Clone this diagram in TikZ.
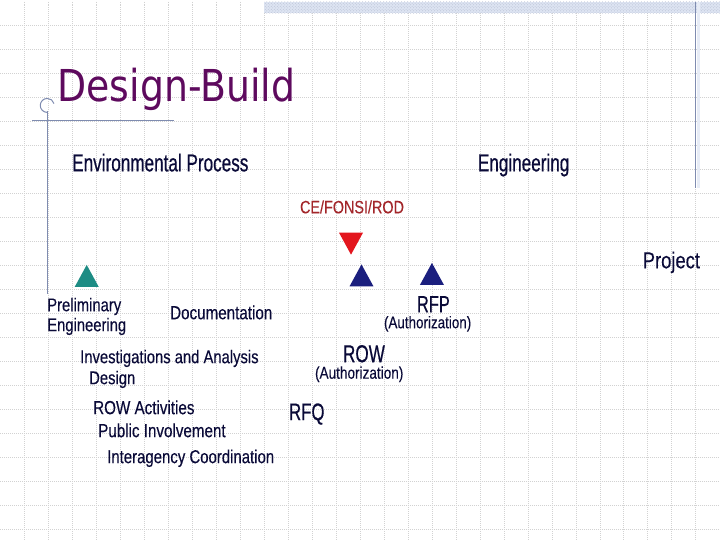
\documentclass[tikz,border=0pt]{standalone}
\usepackage{fontspec}
\setmainfont{Liberation Sans}
\newfontfamily\titlefont[FakeStretch=0.86]{DejaVu Sans}
\newfontfamily\narrowfont[FakeStretch=0.8, FakeBold=0.2]{Liberation Sans}
\newfontfamily\tightfont[FakeStretch=0.7, FakeBold=0.5]{Liberation Sans}
\usetikzlibrary{shapes.geometric,patterns}
\definecolor{tpurple}{HTML}{5E0A5E}
\definecolor{tnavy}{HTML}{0A0A38}
\definecolor{tbrick}{HTML}{A3262A}
\definecolor{tred}{HTML}{E3161E}
\definecolor{tblue}{HTML}{1B1F7E}
\definecolor{tteal}{HTML}{1E8C84}
\definecolor{tslate}{HTML}{7F8CB0}
\definecolor{tband}{HTML}{DDE4F2}

\begin{document}
\begin{tikzpicture}[x=1pt, y=-1pt,
    gridline/.style={gray!35, line width=0.6pt, dash pattern=on 1pt off 1pt},
    rule/.style={tslate, line width=1.3pt},
    lbl/.style={anchor=base west, inner sep=0pt, outer sep=0pt, text=tnavy},
    item/.style={lbl, font=\narrowfont\fontsize{19}{22}\selectfont},
    head/.style={lbl, font=\tightfont\fontsize{24.5}{28}\selectfont},
    auth/.style={lbl, font=\narrowfont\fontsize{16.8}{20}\selectfont},
    tri/.style={isosceles triangle, isosceles triangle stretches, draw=none,
                minimum width=24pt, minimum height=22pt, inner sep=0pt}]

    % --- slide background --------------------------------------------------
    \fill[white] (0,0) rectangle (720,540);
    \foreach \gx in {24,48,...,696} \draw[gridline] (\gx,0) -- (\gx,540);
    \foreach \gy in {24,48,...,528} \draw[gridline] (0,\gy) -- (720,\gy);
    \fill[tband] (264,0) rectangle (720,12);
    \fill[pattern=crosshatch dots, pattern color=tslate!55] (264,0) rectangle (720,12);
    \draw[tband!70, line width=3pt] (699,0) -- (699,187);
    \draw[rule] (696,0) -- (696,187);
    \draw[rule] (47,110) -- (47,293);
    \draw[rule] (32,119) -- (174,119);
    \draw[rule, line width=1pt] (47,111) arc[start angle=90, end angle=345, radius=7];

    % --- title -------------------------------------------------------------
    \node[anchor=base west, inner sep=0pt, text=tpurple,
          font=\titlefont\fontsize{44}{50}\selectfont] (title) at (57,100) {Design-Build};

    % --- phase headings ----------------------------------------------------
    \node[head] (envproc) at (72,170) {Environmental Process};
    \node[head] (eng) at (478,170) {Engineering};
    \node[item, font=\narrowfont\fontsize{23}{26}\selectfont] (project) at (643,267) {Project};

    % --- milestones --------------------------------------------------------
    \node[item, text=tbrick, font=\narrowfont\fontsize{18}{21}\selectfont] (rod) at (300,212) {CE/FONSI/ROD};
    \node[tri, fill=tred, rotate=-90] (rodmark) at (351,238.5) {};
    \node[tri, fill=tteal, rotate=90] (pemark) at (86.5,278.5) {};
    \node[tri, fill=tblue, rotate=90] (rowmark) at (361.5,278) {};
    \node[tri, fill=tblue, rotate=90] (rfpmark) at (432,276.5) {};

    \node[head, font=\tightfont\fontsize{23.5}{28}\selectfont] (rfp) at (417,311) {RFP};
    \node[auth] (rfpauth) at (384,327) {(Authorization)};
    \node[head, font=\tightfont\fontsize{24.5}{28}\selectfont] (row) at (343,361) {ROW};
    \node[auth, font=\narrowfont\fontsize{17}{20}\selectfont] (rowauth) at (315,377.5) {(Authorization)};
    \node[head, font=\tightfont\fontsize{24}{28}\selectfont] (rfq) at (289,419) {RFQ};

    % --- activities --------------------------------------------------------
    \node[item, font=\narrowfont\fontsize{18.5}{22}\selectfont] (prelim) at (47,310) {Preliminary};
    \node[item, font=\narrowfont\fontsize{18.5}{22}\selectfont] (prelimeng) at (47,330) {Engineering};
    \node[item] (doc) at (170,318) {Documentation};
    \node[item, font=\narrowfont\fontsize{18.5}{22}\selectfont] (invest) at (80,362) {Investigations and Analysis};
    \node[item, font=\narrowfont\fontsize{18.5}{22}\selectfont] (design) at (89,383) {Design};
    \node[item] (rowact) at (93,413) {ROW Activities};
    \node[item] (public) at (98,436) {Public Involvement};
    \node[item, font=\narrowfont\fontsize{18.7}{22}\selectfont] (interag) at (107,462) {Interagency Coordination};

    \useasboundingbox (0,0) rectangle (720,540);
\end{tikzpicture}
\end{document}
